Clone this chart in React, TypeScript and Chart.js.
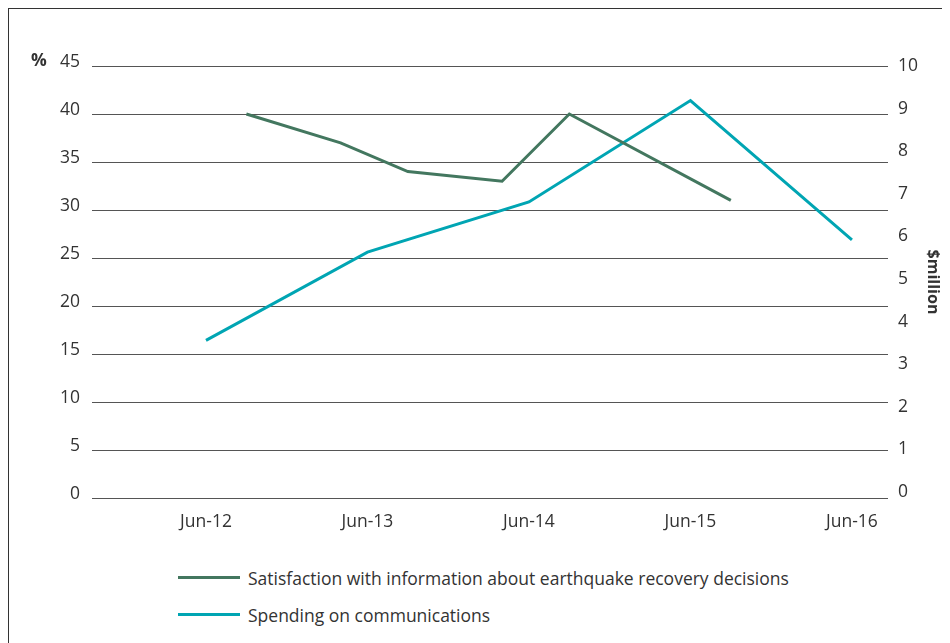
import React, { useEffect, useRef } from "react";
import { Chart, registerables } from "chart.js";

Chart.register(...registerables);

// Months counted from Jun-12 (0 = Jun-12)
const xTickMonths = [0, 12, 24, 36, 48];
const xTickLabels = ["Jun-12", "Jun-13", "Jun-14", "Jun-15", "Jun-16"];

const satisfactionMonths = [3, 10, 15, 22, 27, 39];
const satisfactionValues = [40, 37, 34, 33, 40, 31];

const spendingMonths = [0, 12, 24, 36, 48];
const spendingValues = [3.56, 5.63, 6.81, 9.19, 5.92];

const rightTicks = [0, 1, 2, 3, 4, 5, 6, 7, 8, 9, 10];

const seriesNames = [
  "Satisfaction with information about earthquake recovery decisions",
  "Spending on communications",
];
const seriesColors = ["#43775f", "#00a5b3"];

const FONT = "'Open Sans', 'Noto Sans', sans-serif";
const TEXT = "#333333";
const FS = 17.5;

const percentPlugin = {
  id: "percentLabel",
  afterDraw(chart: any) {
    const { ctx, chartArea, scales } = chart;
    const y = scales.y.getPixelForValue(45) - 5;
    ctx.save();
    ctx.font = `bold ${FS}px ${FONT}`;
    ctx.fillStyle = TEXT;
    ctx.textAlign = "center";
    ctx.textBaseline = "middle";
    ctx.fillText("%", chartArea.left - 53, y);
    ctx.restore();
  },
};

export default function App() {
  const ref = useRef<HTMLCanvasElement | null>(null);

  useEffect(() => {
    if (!ref.current) return;
    const chart = new Chart(ref.current, {
      type: "line",
      data: {
        datasets: [
          {
            label: seriesNames[0],
            data: satisfactionMonths.map((m, i) => ({ x: m, y: satisfactionValues[i] })),
            borderColor: seriesColors[0],
            backgroundColor: seriesColors[0],
            borderWidth: 3,
            pointRadius: 0,
            tension: 0,
            yAxisID: "y",
          },
          {
            label: seriesNames[1],
            data: spendingMonths.map((m, i) => ({ x: m, y: spendingValues[i] })),
            borderColor: seriesColors[1],
            backgroundColor: seriesColors[1],
            borderWidth: 3,
            pointRadius: 0,
            tension: 0,
            yAxisID: "y1",
          },
        ],
      },
      options: {
        responsive: false,
        animation: false,
        layout: { padding: { top: 57, left: 0, right: 0, bottom: 0 } },
        plugins: {
          legend: { display: false },
          tooltip: { enabled: false },
        },
        scales: {
          x: {
            type: "linear",
            min: -8.47,
            max: 50.68,
            afterBuildTicks: (scale: any) => {
              scale.ticks = xTickMonths.map((v) => ({ value: v }));
            },
            afterFit: (scale: any) => {
              scale.height = 56;
            },
            grid: { display: false, drawTicks: false },
            border: { display: false },
            ticks: {
              autoSkip: false,
              maxRotation: 0,
              padding: 14,
              color: TEXT,
              font: { family: FONT, size: FS },
              callback: (v: any) => {
                const i = xTickMonths.indexOf(Number(v));
                return i >= 0 ? xTickLabels[i] : "";
              },
            },
          },
          y: {
            position: "left",
            min: 0,
            max: 45,
            afterFit: (scale: any) => {
              scale.width = 83;
            },
            grid: { color: "#555555", lineWidth: 1, drawTicks: false },
            border: { display: false },
            ticks: {
              stepSize: 5,
              padding: 12,
              labelOffset: -4,
              color: TEXT,
              font: { family: FONT, size: FS },
            },
          },
          y1: {
            position: "right",
            min: -0.14,
            max: 10,
            afterBuildTicks: (scale: any) => {
              scale.ticks = rightTicks.map((v) => ({ value: v }));
            },
            afterFit: (scale: any) => {
              scale.width = 62;
            },
            grid: { display: false, drawTicks: false },
            border: { display: false },
            ticks: {
              padding: 10,
              color: TEXT,
              font: { family: FONT, size: FS },
            },
            title: {
              display: true,
              text: "$million",
              color: TEXT,
              font: { family: FONT, size: 16, weight: "bold" },
              padding: { top: 8, bottom: 0 },
            },
          },
        },
      },
      plugins: [percentPlugin],
    });
    return () => chart.destroy();
  }, []);

  return (
    <div
      style={{
        position: "relative",
        width: 960,
        height: 660,
        borderLeft: "1px solid #333",
        borderTop: "1px solid #333",
        boxSizing: "border-box",
        fontFamily: FONT,
      }}
    >
      <canvas
        ref={ref}
        width={941}
        height={545}
        style={{ position: "absolute", left: 0, top: 0, width: 941, height: 545 }}
      />
      <div style={{ position: "absolute", left: 169, top: 550, display: "flex", flexDirection: "column" }}>
        {seriesNames.map((name, i) => (
          <div key={name} style={{ display: "flex", alignItems: "center", height: 37 }}>
            <div style={{ width: 62, height: 3, background: seriesColors[i], marginRight: 8 }} />
            <span style={{ fontSize: FS, color: TEXT, whiteSpace: "nowrap" }}>{name}</span>
          </div>
        ))}
      </div>
    </div>
  );
}
